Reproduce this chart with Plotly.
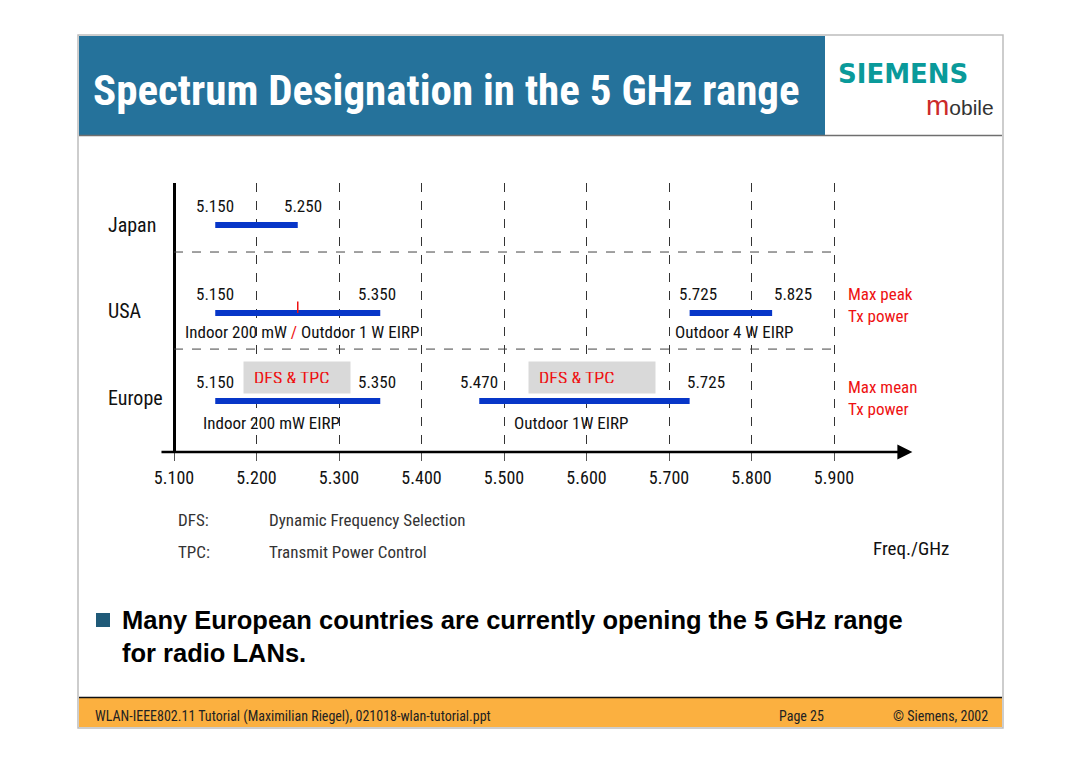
import plotly.graph_objects as go

W, H = 1080, 763

# ---- data ----
rows = ["Europe", "USA", "Japan"]          # y positions 0, 1, 2
tick_vals = [5.1, 5.2, 5.3, 5.4, 5.5, 5.6, 5.7, 5.8, 5.9]
tick_text = ["5.100", "5.200", "5.300", "5.400", "5.500", "5.600", "5.700", "5.800", "5.900"]

japan_start = [5.150]
japan_end = [5.250]
usa_start = [5.150, 5.725]
usa_end = [5.350, 5.825]
europe_start = [5.150, 5.470]
europe_end = [5.350, 5.725]
usa_split = 5.250

japan_edges = [5.150, 5.250]
usa_edges = [5.150, 5.350, 5.725, 5.825]
europe_edges = [5.150, 5.350, 5.470, 5.725]

usa_notes = ['Indoor 200 mW <span style="color:#ee1111">/</span> Outdoor 1 W EIRP', "Outdoor 4 W EIRP"]
europe_notes = ["Indoor 200 mW EIRP", "Outdoor 1W EIRP"]

NARROW = "Liberation Sans Narrow, Arial Narrow, Roboto Condensed, Liberation Sans, Arial, sans-serif"
ARIAL = "Liberation Sans, Arial, sans-serif"
BLUE = "#0736c8"
RED = "#ee1111"


def px(x):
    return x / W


def py(y):
    return 1 - y / H


def label(x, y, text, size, color="#111", family=NARROW, anchor="left", **kw):
    d = dict(x=px(x), y=py(y), xref="paper", yref="paper", text=text, showarrow=False,
             xanchor=anchor, yanchor="middle", font=dict(family=family, size=size, color=color))
    d.update(kw)
    return d


fig = go.Figure()

# bands
for y, starts, ends in [(2, japan_start, japan_end), (1, usa_start, usa_end), (0, europe_start, europe_end)]:
    xs, ys = [], []
    for s, e in zip(starts, ends):
        xs += [s, e, None]
        ys += [y, y, None]
    fig.add_trace(go.Scatter(x=xs, y=ys, mode="lines", line=dict(color=BLUE, width=6),
                             hoverinfo="skip", showlegend=False))

# red split mark on the USA band
fig.add_trace(go.Scatter(x=[usa_split, usa_split], y=[1, 1.13], mode="lines",
                         line=dict(color=RED, width=1.5), hoverinfo="skip", showlegend=False))

ann = []

# edge value labels
for y, edges, shifts in [(2, japan_edges, [0, 5]), (1, usa_edges, [0, -3, 8, 21]),
                         (0, europe_edges, [0, -3, 0, 16])]:
    for v, s in zip(edges, shifts):
        ann.append(dict(x=v, y=y, xref="x", yref="y", text=f"{v:.3f}", showarrow=False,
                        xshift=s, yshift=19, font=dict(family=NARROW, size=17, color="#111")))

# notes under bands
for y, notes, xs, ysh in [(1, usa_notes, [5.255, 5.779], -19), (0, europe_notes, [5.218, 5.581], -22)]:
    for t, x in zip(notes, xs):
        ann.append(dict(x=x, y=y, xref="x", yref="y", text=t, showarrow=False, yshift=ysh,
                        font=dict(family=NARROW, size=17, color="#111")))

# DFS & TPC boxes
for x, w in [(5.249, 106), (5.607, 126)]:
    ann.append(dict(x=x, y=0.267, xref="x", yref="y", text="DFS &amp; TPC", showarrow=False,
                    bgcolor="#d9d9d9", width=w - 20, height=11, align="left", borderpad=10,
                    font=dict(family=NARROW, size=18, color=RED)))

# row labels
for i, name in enumerate(rows):
    ann.append(dict(x=px(106), y=i, xref="paper", yref="y", text=name, showarrow=False,
                    xanchor="left", yshift=[3, 2, 0][i], font=dict(family=NARROW, size=20, color="#111")))

# right notes
ann.append(label(846, 305, "Max peak<br>Tx power", 17, RED, align="left"))
ann.append(label(846, 398, "Max mean<br>Tx power", 17, RED, align="left"))

# axis arrow
ann.append(dict(x=5.995, y=-0.5795, ax=5.083, ay=-0.5795, xref="x", yref="y", axref="x", ayref="y",
                text="", showarrow=True, arrowhead=2, arrowsize=1.2, arrowwidth=2.5, arrowcolor="#000"))

# legend of abbreviations
for yy, a, b in [(520, "DFS:", "Dynamic Frequency Selection"), (552, "TPC:", "Transmit Power Control")]:
    ann.append(label(176, yy, a, 17, "#333"))
    ann.append(label(267, yy, b, 17, "#333"))
ann.append(label(871, 548, "Freq./GHz", 19))

# slide title and logo
ann.append(label(91, 90, "<b>Spectrum Designation in the 5 GHz range</b>", 43, "white"))
ann.append(label(836, 74, "<b>SIEMENS</b>", 26, "#0a9a9a", family="DejaVu Sans"))
ann.append(label(996, 106, '<span style="color:#cc2a2a;font-size:28px">m</span>obile', 21, "#333",
                 family=ARIAL, anchor="right"))

# bullet text
ann.append(label(120, 636, "<b>Many European countries are currently opening the 5 GHz range<br>for radio LANs.</b>",
                 25.5, "#000", family=ARIAL, align="left"))

# footer
ann.append(label(93, 716, "WLAN-IEEE802.11 Tutorial (Maximilian Riegel), 021018-wlan-tutorial.ppt", 14, "#222"))
ann.append(label(777, 716, "Page 25", 14, "#222"))
ann.append(label(990, 716, "© Siemens, 2002", 14, "#222", anchor="right"))

shapes = [
    # slide frame
    dict(type="rect", xref="paper", yref="paper", x0=px(78), x1=px(1003), y0=py(728), y1=py(35),
         line=dict(color="#bdbdbd", width=1.5), fillcolor="white", layer="below"),
    dict(type="rect", xref="paper", yref="paper", x0=px(79), x1=px(825), y0=py(135), y1=py(36),
         line=dict(width=0), fillcolor="#25729b", layer="below"),
    dict(type="line", xref="paper", yref="paper", x0=px(79), x1=px(1002), y0=py(135.5), y1=py(135.5),
         line=dict(color="#6f6f6f", width=1.5)),
    dict(type="rect", xref="paper", yref="paper", x0=px(79), x1=px(1002), y0=py(727), y1=py(698),
         line=dict(width=0), fillcolor="#fbb040", layer="below"),
    dict(type="line", xref="paper", yref="paper", x0=px(79), x1=px(1002), y0=py(697.5), y1=py(697.5),
         line=dict(color="#111", width=1.5)),
    # bullet square
    dict(type="rect", xref="paper", yref="paper", x0=px(96), x1=px(110), y0=py(627), y1=py(613),
         line=dict(width=0), fillcolor="#1f5a78"),
    # row separators
    dict(type="line", xref="x", yref="y", x0=5.1, x1=5.9, y0=0.59, y1=0.59,
         line=dict(color="#444", width=1, dash="dash")),
    dict(type="line", xref="x", yref="y", x0=5.1, x1=5.9, y0=1.693, y1=1.693,
         line=dict(color="#444", width=1, dash="dash")),
]

fig.update_layout(
    width=W, height=H, autosize=False,
    margin=dict(l=0, r=0, t=0, b=0),
    paper_bgcolor="white", plot_bgcolor="rgba(0,0,0,0)",
    annotations=ann, shapes=shapes,
    xaxis=dict(domain=[0, 1], range=[5.1 - 174 / 825, 5.1 + 906 / 825], tickvals=tick_vals, ticktext=tick_text,
               showgrid=True, gridcolor="#333", griddash="dash", gridwidth=1, zeroline=False,
               ticks="outside", ticklen=8, tickcolor="#555", tickwidth=1, ticklabelstandoff=1,
               tickfont=dict(family=NARROW, size=18, color="#111"), showline=False, fixedrange=True),
    yaxis=dict(domain=[py(452), py(183)], range=[-0.5795, 2.4773], showgrid=False, zeroline=False,
               showticklabels=False, showline=True, linecolor="#000", linewidth=3,
               anchor="free", position=px(174), fixedrange=True),
)

fig.write_html("out.html", config=dict(displayModeBar=False),
               post_script="document.body.style.margin='0';document.body.style.overflow='hidden';")
